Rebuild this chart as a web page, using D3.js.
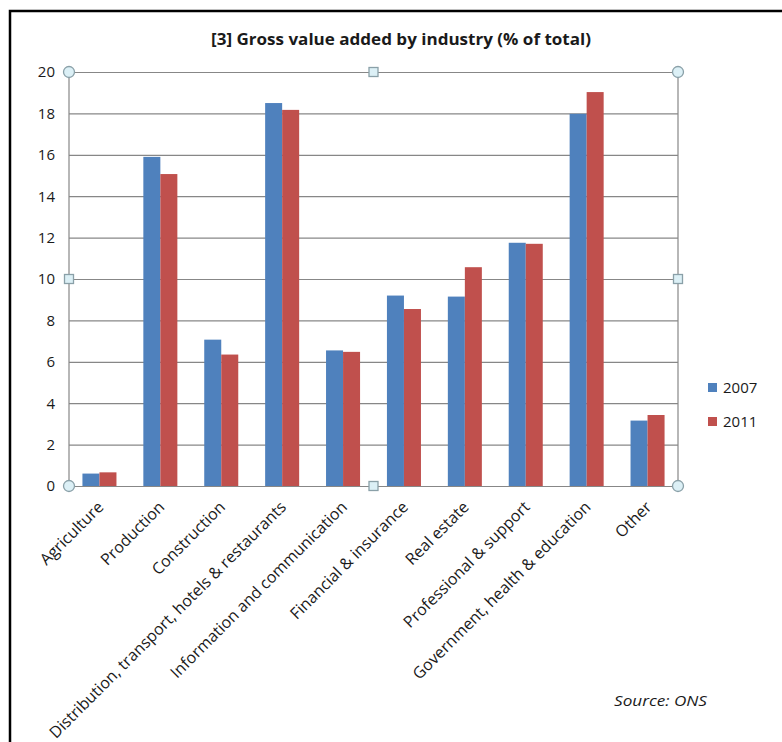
<!DOCTYPE html>
<html>
  <head>
    <title>Gross value added by industry</title>
    <script src="https://cdn.jsdelivr.net/npm/d3@7/dist/d3.min.js"></script>
    <style>
      body { margin: 0; background: #fff; }
      text { font-family: 'Open Sans', sans-serif; fill: #1a1a1a; }
    </style>
  </head>
  <body>
    <svg width="782" height="742" id="mainsvg"></svg>
    <script>
      const categories = ['Agriculture', 'Production', 'Construction',
        'Distribution, transport, hotels & restaurants', 'Information and communication',
        'Financial & insurance', 'Real estate', 'Professional & support',
        'Government, health & education', 'Other'];
      const series = ['2007', '2011'];
      const values2007 = [0.6, 15.9, 7.07, 18.5, 6.55, 9.2, 9.15, 11.75, 17.98, 3.16];
      const values2011 = [0.66, 15.07, 6.35, 18.17, 6.48, 8.55, 10.57, 11.7, 19.03, 3.43];
      const yTicks = [0, 2, 4, 6, 8, 10, 12, 14, 16, 18, 20];
      const colors = ['#4f81bd', '#c0504d'];

      const svg = d3.select('#mainsvg');
      const margin = {top: 72, right: 104, bottom: 256, left: 69};
      const width = +svg.attr('width');
      const height = +svg.attr('height');
      const innerWidth = width - margin.left - margin.right;
      const innerHeight = height - margin.top - margin.bottom;

      const data = categories.map((c, i) => ({name: c, values: [values2007[i], values2011[i]]}));

      // outer frame (only top and left edges show)
      svg.append('path')
        .attr('d', `M10,742 V11 H782`)
        .attr('fill', 'none')
        .attr('stroke', '#000')
        .attr('stroke-width', 2.5);

      svg.append('text')
        .attr('x', 401).attr('y', 45)
        .attr('text-anchor', 'middle')
        .attr('font-size', 16.5).attr('font-weight', 'bold')
        .attr('textLength', 380).attr('lengthAdjust', 'spacingAndGlyphs')
        .text('[3] Gross value added by industry (% of total)');

      const g = svg.append('g')
        .attr('transform', `translate(${margin.left}, ${margin.top})`)
        .attr('id', 'maingroup');

      const xScale = d3.scaleBand().domain(categories).range([0, innerWidth]);
      const xSub = d3.scaleBand().domain(series).range([0, xScale.bandwidth()]).paddingOuter(0.79);
      const yScale = d3.scaleLinear().domain([0, 20]).range([innerHeight, 0]);

      // gridlines + y labels
      const yAxis = d3.axisLeft(yScale).tickValues(yTicks).tickSize(-innerWidth).tickPadding(14);
      const yAxisGroup = g.append('g').call(yAxis);
      yAxisGroup.selectAll('.domain').remove();
      yAxisGroup.selectAll('.tick line').attr('stroke', '#878787').attr('stroke-width', 1.2);
      yAxisGroup.selectAll('.tick text').attr('font-size', 15).attr('fill', '#1a1a1a')
        .attr('font-family', 'Open Sans, sans-serif');

      // plot side borders
      g.append('line').attr('x1', 0).attr('x2', 0).attr('y1', 0).attr('y2', innerHeight)
        .attr('stroke', '#878787').attr('stroke-width', 1.2);
      g.append('line').attr('x1', innerWidth).attr('x2', innerWidth).attr('y1', 0).attr('y2', innerHeight)
        .attr('stroke', '#878787').attr('stroke-width', 1.2);

      // bars
      const groups = g.selectAll('.grp').data(data).join('g')
        .attr('class', 'grp')
        .attr('transform', d => `translate(${xScale(d.name)}, 0)`);
      groups.selectAll('rect')
        .data(d => d.values.map((v, i) => ({key: series[i], v, i})))
        .join('rect')
        .attr('x', d => xSub(d.key))
        .attr('y', d => yScale(d.v))
        .attr('width', xSub.bandwidth())
        .attr('height', d => innerHeight - yScale(d.v))
        .attr('fill', d => colors[d.i]);

      // x labels, rotated
      const xAxisGroup = g.append('g').attr('transform', `translate(0, ${innerHeight})`);
      xAxisGroup.selectAll('text').data(categories).join('text')
        .attr('transform', d => `translate(${xScale(d) + xScale.bandwidth() / 2 - 3}, 14) rotate(-45)`)
        .attr('text-anchor', 'end')
        .attr('dy', '0.71em')
        .attr('font-size', 16)
        .text(d => d);

      // selection handles on plot area
      const hx = [0, innerWidth / 2, innerWidth];
      const hy = [0, innerHeight / 2, innerHeight];
      const handles = [];
      hx.forEach((x, i) => hy.forEach((y, j) => {
        if (i === 1 && j === 1) return;
        handles.push({x, y, corner: i !== 1 && j !== 1});
      }));
      g.selectAll('.handle-c').data(handles.filter(h => h.corner)).join('circle')
        .attr('class', 'handle-c')
        .attr('cx', d => d.x).attr('cy', d => d.y).attr('r', 5.5)
        .attr('fill', '#dcf0f6').attr('stroke', '#8aa0a8').attr('stroke-width', 1.3);
      g.selectAll('.handle-s').data(handles.filter(h => !h.corner)).join('rect')
        .attr('class', 'handle-s')
        .attr('x', d => d.x - 4.5).attr('y', d => d.y - 4.5)
        .attr('width', 9).attr('height', 9)
        .attr('fill', '#dcf0f6').attr('stroke', '#8aa0a8').attr('stroke-width', 1.3);

      // legend
      const legend = svg.append('g').attr('transform', 'translate(708, 383)');
      const items = legend.selectAll('g').data(series).join('g')
        .attr('transform', (d, i) => `translate(0, ${i * 34})`);
      items.append('rect').attr('width', 9).attr('height', 9).attr('fill', (d, i) => colors[i]);
      items.append('text').attr('x', 15).attr('y', 10).attr('font-size', 15).text(d => d);

      svg.append('text')
        .attr('x', 614).attr('y', 706)
        .attr('font-size', 14.5).attr('font-style', 'italic')
        .attr('textLength', 93).attr('lengthAdjust', 'spacingAndGlyphs')
        .text('Source:  ONS');
    </script>
  </body>
</html>
